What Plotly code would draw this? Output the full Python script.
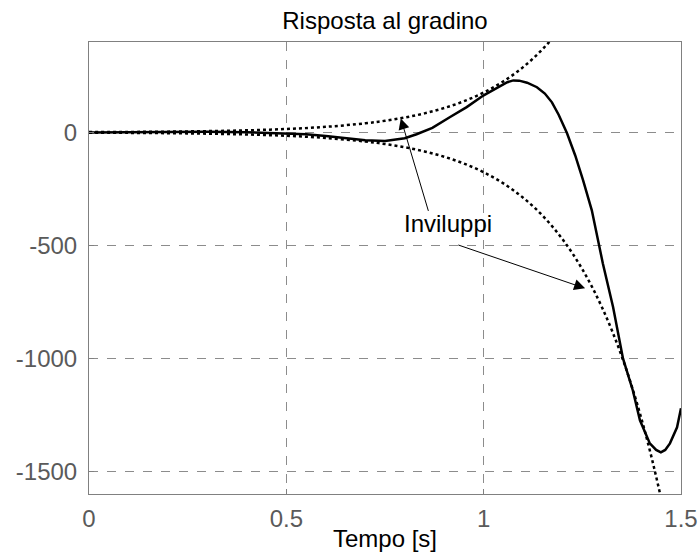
import plotly.graph_objects as go

# step response of the unstable system
t_resp = [0, 0.1, 0.2, 0.3, 0.4, 0.5, 0.55, 0.6, 0.65, 0.7, 0.75, 0.8,
          0.83, 0.87, 0.915, 0.957, 1.0, 1.04, 1.06, 1.075, 1.09, 1.11,
          1.135, 1.155, 1.173, 1.19, 1.211, 1.232, 1.252, 1.274, 1.287,
          1.302, 1.328, 1.338, 1.353, 1.378, 1.396, 1.421, 1.437, 1.449,
          1.46, 1.472, 1.49, 1.5]
resp = [0, 1, 3, 3, 1, -3, -8, -16, -27, -35, -38, -26,
        -8, 20, 68, 112, 164, 205, 222, 230, 229, 220,
        200, 172, 133, 78, -3, -102, -212, -345, -460,
        -580, -774, -863, -1000, -1142, -1274, -1376, -1405, -1416,
        -1405, -1376, -1305, -1221]

# exponential envelopes (upper / lower)
t_env = [0, 0.1, 0.2, 0.3, 0.4, 0.5, 0.6, 0.7, 0.75, 0.8, 0.85, 0.9, 0.95,
         1.0, 1.05, 1.1, 1.15, 1.2, 1.25, 1.3, 1.35, 1.4, 1.45, 1.5]
env_up = [1.3, 2.1, 3.4, 5.6, 9.2, 15.0, 24.6, 40.2, 51.4, 65.8, 84.2, 107.8,
          137.9, 176.5, 225.8, 288.9, 369.7, 473.2, 605.5, 774.8, 991.4,
          1268.6, 1623.4, 2077]
env_down = [-v for v in env_up]

x_ticks = [0, 0.5, 1, 1.5]
x_labels = ["0", "0.5", "1", "1.5"]
y_ticks = [-1500, -1000, -500, 0]
y_labels = ["-1500", "-1000", "-500", "0"]

FONT = "Liberation Sans, Arial, Helvetica, sans-serif"
GRAY = "#5a5a5a"

fig = go.Figure()

for env in (env_up, env_down):
    fig.add_trace(go.Scatter(
        x=t_env, y=env, mode="lines",
        line=dict(color="black", width=2.5, dash="dot", shape="spline"),
        showlegend=False, hoverinfo="skip",
    ))

fig.add_trace(go.Scatter(
    x=t_resp, y=resp, mode="lines",
    line=dict(color="black", width=2.5),
    showlegend=False,
))

# label + the two arrows pointing at the envelopes
fig.add_annotation(x=0.91, y=-403, text="Inviluppi", showarrow=False,
                   font=dict(size=24, color="black", family=FONT))
fig.add_annotation(x=0.79, y=62, ax=0.861, ay=-354, axref="x", ayref="y",
                   text="", showarrow=True, arrowhead=2, arrowsize=2.2,
                   arrowwidth=1, arrowcolor="black")
fig.add_annotation(x=1.257, y=-690, ax=0.932, ay=-496, axref="x", ayref="y",
                   text="", showarrow=True, arrowhead=2, arrowsize=2.2,
                   arrowwidth=1, arrowcolor="black")

axis_common = dict(
    showgrid=True, gridcolor="#8c8c8c", griddash="dash", gridwidth=1,
    zeroline=False, showline=True, linecolor="#808080", linewidth=1,
    mirror=True, ticks="inside", ticklen=5, tickcolor="#808080",
    tickfont=dict(size=24, color=GRAY, family=FONT), automargin=False,
)

fig.update_xaxes(
    range=[0, 1.5], tickvals=x_ticks, ticktext=x_labels,
    ticklabelstandoff=3,
    title=dict(text="Tempo [s]", font=dict(size=24, color="black", family=FONT),
               standoff=2),
    **axis_common,
)
fig.update_yaxes(
    range=[-1600, 400], tickvals=y_ticks, ticktext=y_labels,
    ticklabelstandoff=6,
    **axis_common,
)

fig.update_layout(
    width=699, height=552,
    margin=dict(l=89, r=18, t=42, b=58),
    paper_bgcolor="white", plot_bgcolor="white",
    font=dict(family=FONT),
    title=dict(text="Risposta al gradino", x=0.5, xref="paper",
               y=1 - 21 / 552, yref="container", yanchor="middle",
               font=dict(size=24, color="black", family=FONT)),
)

# drop the default page margin so the figure sits flush in the window
fig.write_html("out.html",
               config={"displayModeBar": False},
               post_script="document.body.style.margin='0';"
                           "document.body.style.overflow='hidden';")
